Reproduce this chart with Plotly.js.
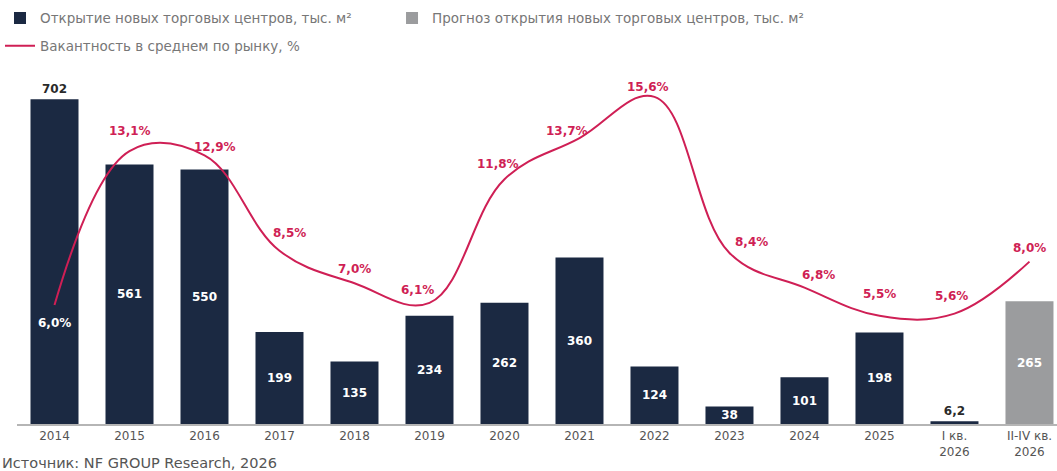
<!DOCTYPE html>
<html>
<head>
<meta charset="utf-8">
<script src="https://cdn.plot.ly/plotly-3.0.1.min.js"></script>
<style>html,body{margin:0;padding:0;background:#fff}#chart{width:1057px;height:471px}</style>
</head>
<body>
<div id="chart"></div>
<script>
const categories = ["2014","2015","2016","2017","2018","2019","2020","2021","2022","2023","2024","2025","I кв.<br>2026","II-IV кв.<br>2026"];
const openings = [702, 561, 550, 199, 135, 234, 262, 360, 124, 38, 101, 198, 6.2, null];
const forecast = [null, null, null, null, null, null, null, null, null, null, null, null, null, 265];
const vacancy = [6.0, 13.1, 12.9, 8.5, 7.0, 6.1, 11.8, 13.7, 15.6, 8.4, 6.8, 5.5, 5.6, 8.0];

const fmt = v => String(v).replace('.', ',');
const fmtPct = v => v.toFixed(1).replace('.', ',') + '%';

// label offsets in px (layout only)
const pctShift = [[0,-18],[0,20],[10,8],[10,18],[0,14],[-12,13],[-6,15],[-12,7],[-6,10],[22,11],[14,13],[0,22],[-3,18],[0,14]];

const FONT = '"DejaVu Sans", sans-serif';
const navy = '#1b2942';
const crimson = '#cf1f55';

const traces = [
  {
    type: 'bar', x: categories, y: openings, name: 'Открытие новых торговых центров, тыс. м²',
    marker: {color: navy}, width: 0.64, legend: 'legend',
    text: openings.map(v => v == null ? '' : fmt(v)),
    textposition: openings.map((v, i) => (i === 0 || i === 12) ? 'outside' : 'inside'),
    insidetextanchor: 'middle', constraintext: 'none',
    insidetextfont: {color: '#ffffff', size: 12, family: FONT, weight: 'bold'},
    outsidetextfont: {color: '#2a2a2a', size: 12, family: FONT, weight: 'bold'},
    textangle: 0, cliponaxis: false, hoverinfo: 'skip'
  },
  {
    type: 'bar', x: categories, y: forecast, name: 'Прогноз открытия новых торговых центров, тыс. м²',
    marker: {color: '#9b9c9e'}, width: 0.64, legend: 'legend3',
    text: forecast.map(v => v == null ? '' : fmt(v)),
    textposition: 'inside', insidetextanchor: 'middle',
    insidetextfont: {color: '#ffffff', size: 12, family: FONT, weight: 'bold'},
    textangle: 0, hoverinfo: 'skip'
  },
  {
    type: 'scatter', mode: 'lines', x: categories, y: vacancy, yaxis: 'y2', legend: 'legend2',
    name: 'Вакантность в среднем по рынку, %',
    line: {color: crimson, width: 2, shape: 'spline', smoothing: 1.1},
    hoverinfo: 'skip', cliponaxis: false
  }
];

const annotations = vacancy.map((v, i) => ({
  x: i, y: v, xref: 'x', yref: 'y2',
  text: '<b>' + fmtPct(v) + '</b>', showarrow: false,
  xshift: pctShift[i][0], yshift: pctShift[i][1],
  font: {family: FONT, size: 12, color: i === 0 ? '#ffffff' : crimson}
}));
annotations.push({
  xref: 'paper', yref: 'paper', x: -0.016, y: -0.083, xanchor: 'left', yanchor: 'top',
  text: 'Источник: NF GROUP Research, 2026', showarrow: false,
  font: {family: FONT, size: 14.5, color: '#555'}
});

const legendFont = {size: 13.5, color: '#777', family: FONT};
const legendBase = {orientation: 'h', xanchor: 'left', yanchor: 'top', font: legendFont, itemwidth: 30, bgcolor: 'rgba(0,0,0,0)'};
const layout = {
  width: 1057, height: 471,
  margin: {l: 17, r: 0, t: 70, b: 47},
  paper_bgcolor: '#fff', plot_bgcolor: '#fff',
  barmode: 'overlay', showlegend: true,
  font: {family: FONT, color: '#555'},
  legend: Object.assign({}, legendBase, {x: -0.0165, y: 1.19}),
  legend3: Object.assign({}, legendBase, {x: 0.3606, y: 1.19}),
  legend2: Object.assign({}, legendBase, {x: -0.0165, y: 1.112}),
  xaxis: {
    type: 'category', range: [-0.5, 13.367], showgrid: false, zeroline: false,
    showline: true, linecolor: '#b5b5b5', linewidth: 2, ticks: '',
    tickfont: {size: 12, color: '#555', family: FONT}, fixedrange: true
  },
  yaxis: {range: [0, 765], visible: false, showgrid: false, zeroline: false, fixedrange: true},
  yaxis2: {range: [0.51, 16.84], overlaying: 'y', side: 'right', visible: false, showgrid: false, zeroline: false, fixedrange: true},
  annotations: annotations
};

Plotly.newPlot('chart', traces, layout, {displayModeBar: false, staticPlot: true});
</script>
</body>
</html>
